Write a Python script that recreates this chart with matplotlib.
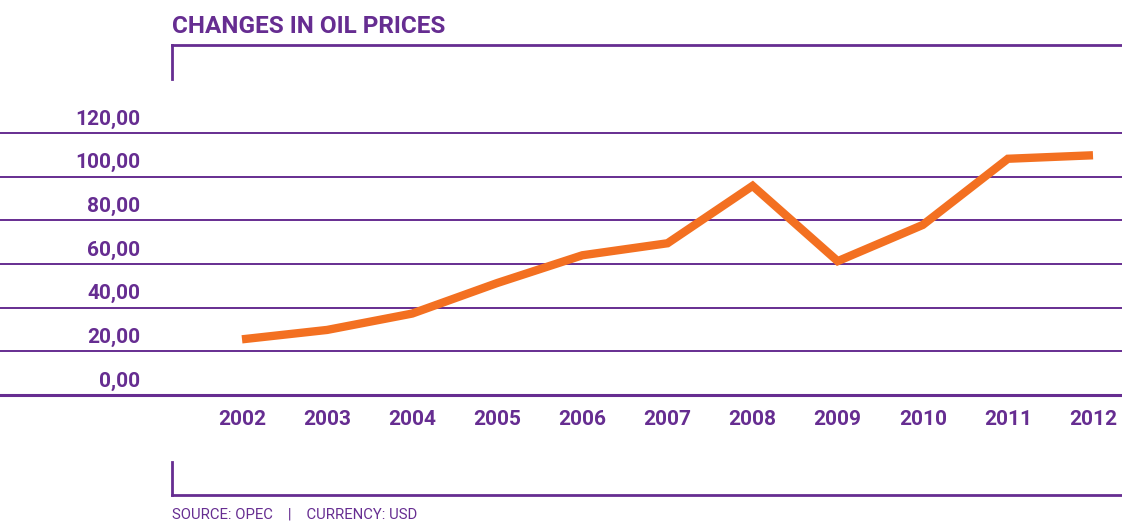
import matplotlib.pyplot as plt
from matplotlib.lines import Line2D

# data (OPEC basket price, USD)
years = [2002, 2003, 2004, 2005, 2006, 2007, 2008, 2009, 2010, 2011, 2012]
prices = [25.5, 29.8, 37.3, 51.3, 64.0, 69.5, 95.8, 61.3, 77.9, 108.2, 109.8]
y_ticks = [0, 20, 40, 60, 80, 100, 120]
y_labels = ["0,00", "20,00", "40,00", "60,00", "80,00", "100,00", "120,00"]

purple = "#662d91"
orange = "#f37021"
plt.rcParams['font.family'] = ['Roboto', 'DejaVu Sans']

W, H = 1122, 522
fig = plt.figure(figsize=(W / 100, H / 100), dpi=100)

# axes covers full width so the grid lines run edge to edge
x0, x1 = 242, 1093          # pixel centres of first and last year
px_per_year = (x1 - x0) / (years[-1] - years[0])
ax = fig.add_axes([0, 1 - 395 / H, 1, (395 - 133) / H])
ax.set_xlim(years[0] - x0 / px_per_year, years[0] + (W - x0) / px_per_year)
ax.set_ylim(0, 120)
ax.axis('off')

for v, lab in zip(y_ticks, y_labels):
    ax.axhline(v, color=purple, lw=2.2 if v == 0 else 1.4, clip_on=False, zorder=1)
    ax.annotate(lab, (140 / W, v), xycoords=('axes fraction', 'data'),
                xytext=(0, 6), textcoords='offset points',
                ha='right', va='baseline', color=purple, fontsize=15, fontweight='bold')

ax.plot(years, prices, color=orange, lw=6, solid_joinstyle='miter',
        solid_capstyle='butt', clip_on=False, zorder=3)

for yr in years:
    ax.annotate(str(yr), (yr, 0), xycoords='data', xytext=(0, -17.5),
                textcoords='offset points', ha='center', va='center',
                color=purple, fontsize=15, fontweight='bold')

# title and frame brackets
fig.text(172 / W, 1 - 33 / H, "CHANGES IN OIL PRICES", color=purple,
         fontsize=17.5, fontweight='bold', ha='left', va='baseline')
fig.add_artist(Line2D([172 / W, 1], [1 - 45 / H, 1 - 45 / H], color=purple, lw=2))
fig.add_artist(Line2D([172 / W, 172 / W], [1 - 45 / H, 1 - 79 / H], color=purple, lw=2))
fig.add_artist(Line2D([172 / W, 172 / W], [1 - 462 / H, 1 - 495 / H], color=purple, lw=2))
fig.add_artist(Line2D([172 / W, 1], [1 - 495 / H, 1 - 495 / H], color=purple, lw=2))

fig.text(172 / W, 1 - 514.5 / H, "SOURCE: OPEC    |    CURRENCY: USD", color=purple,
         fontsize=10.7, ha='left', va='center')

fig.savefig("out.png", dpi=100)
